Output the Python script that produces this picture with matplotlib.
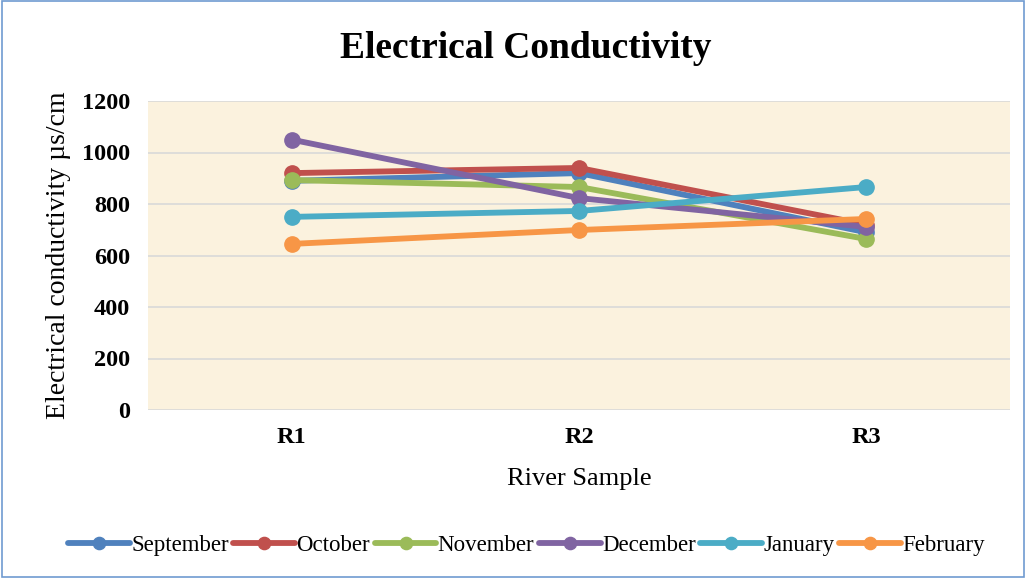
import matplotlib
matplotlib.use("Agg")
import matplotlib.pyplot as plt
from matplotlib.patches import Rectangle

categories = ["R1", "R2", "R3"]
series_names = ["September", "October", "November", "December", "January", "February"]
september = [890, 920, 690]
october = [920, 940, 720]
november = [893, 866, 664]
december = [1050, 823, 711]
january = [750, 773, 866]
february = [645, 699, 742]
values = [september, october, november, december, january, february]
colors = ["#4F81BD", "#C0504D", "#9BBB59", "#8064A2", "#4BACC6", "#F79646"]
yticks = [0, 200, 400, 600, 800, 1000, 1200]

plt.rcParams['font.family'] = ['Liberation Serif', 'DejaVu Serif']

fig = plt.figure(figsize=(10.26, 5.78), dpi=100)
fig.patch.set_facecolor("white")
fig.add_artist(Rectangle((0.002, 0.002), 0.996, 0.996, transform=fig.transFigure,
                         fill=False, edgecolor="#6F9BD1", linewidth=1.2))

ax = fig.add_axes([148/1026, 1 - 410/578, 862/1026, 309/578])
ax.set_facecolor("#FBF2DE")
x = list(range(len(categories)))
for name, vals, c in zip(series_names, values, colors):
    ax.plot(x, vals, color=c, linewidth=4.2, marker="o", markersize=11,
            label=name, solid_capstyle="round")

ax.set_xlim(-0.5, 2.5)
ax.set_ylim(0, 1200)
ax.set_yticks(yticks)
ax.set_yticklabels([str(t) for t in yticks], fontsize=17.5, fontweight="bold")
ax.set_xticks(x)
ax.set_xticklabels(categories, fontsize=17.5, fontweight="bold")
ax.tick_params(axis="x", length=0, pad=12)
ax.tick_params(axis="y", length=0, pad=13)
ax.grid(axis="y", color="#D9D9D9", linewidth=1.2)
ax.set_axisbelow(True)
for s in ax.spines.values():
    s.set_visible(False)

ax.set_xlabel("River Sample", fontsize=19, labelpad=15)
ax.set_ylabel("Electrical conductivity µs/cm", fontsize=20, labelpad=8)
fig.text(0.512, 1 - 48/578, "Electrical Conductivity", ha="center", va="center",
         fontsize=27, fontweight="bold")

handles, labels = ax.get_legend_handles_labels()
fig.legend(handles, labels, loc="center", bbox_to_anchor=(0.513, 1 - 545/578),
           ncol=6, frameon=False, fontsize=16.5, handlelength=2.7, handletextpad=0.05,
           columnspacing=0.2, markerscale=0.8)

fig.savefig("out.png", dpi=100)
